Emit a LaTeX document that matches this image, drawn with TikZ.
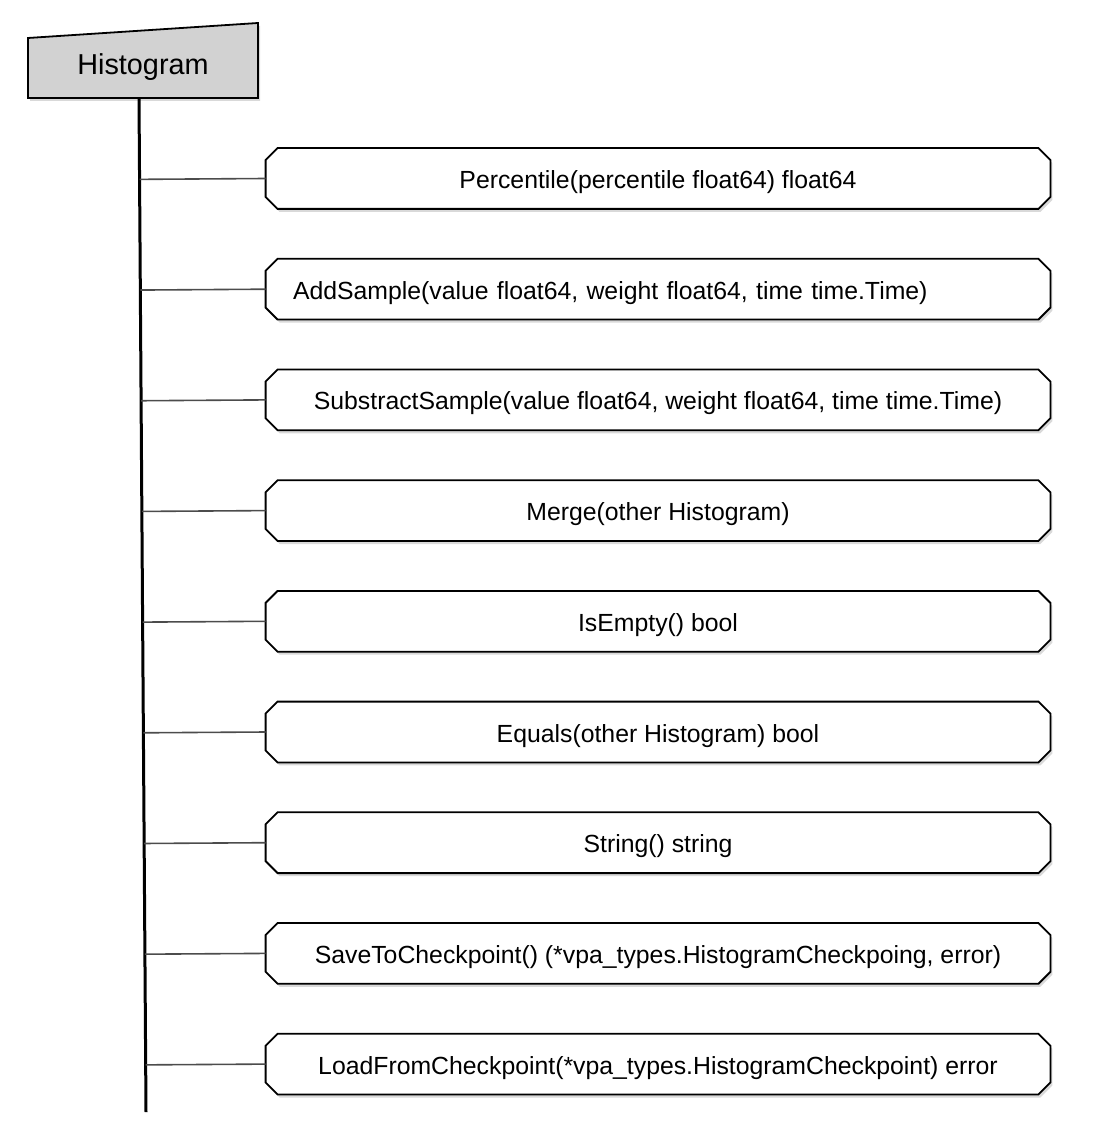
\documentclass[tikz,border=0pt]{standalone}
\usepackage{fontspec}
\setmainfont{Liberation Sans}
\usepackage{tikz}
\usetikzlibrary{calc,positioning,shadows,backgrounds}
\tikzset{
  trunk/.style={line width=1.5pt,black},
  branch/.style={line width=0.8pt,black!70},
  header/.style={draw=black,line width=0.9pt,fill=gray!35,
    drop shadow={shadow xshift=1pt,shadow yshift=-1.5pt,opacity=0.3}},
  methodbox/.style={draw=black,line width=0.9pt,fill=white,
    drop shadow={shadow xshift=1pt,shadow yshift=-1.5pt,opacity=0.3}},
  method/.style={rectangle,minimum width=392pt,minimum height=30pt,
    inner sep=0pt,text height=10pt,text depth=0pt},
  every node/.style={font=\fontsize{12.4}{14}\selectfont}
}
\newcommand\chamf{12}

\begin{document}
\begin{tikzpicture}[x=0.5pt,y=-0.5pt]
  \useasboundingbox (0,0) rectangle (1110,1144);
  % class box
  \filldraw[header] (28,38) -- (258,23) -- (258,98) -- (28,98) -- cycle;
  \node[font=\fontsize{14.4}{16}\selectfont] (hist) at (143,67) {Histogram};
  \coordinate (top) at (139,98);
  \coordinate (bot) at (146,1112);
  \draw[trunk] (top) -- (bot);

  % methods
  \node[method] (m1) at (658,178.5) {Percentile(percentile float64) float64};
  \node[method,text width=365pt,inner xsep=13.5pt,align=left] (m2) at (658,289.2)
    {AddSample(value float64, weight float64, time time.Time)};
  \node[method] (m3) at (658,399.9) {SubstractSample(value float64, weight float64, time time.Time)};
  \node[method] (m4) at (658,510.6) {Merge(other Histogram)};
  \node[method] (m5) at (658,621.3) {IsEmpty() bool};
  \node[method] (m6) at (658,732.0) {Equals(other Histogram) bool};
  \node[method] (m7) at (658,842.7) {String() string};
  \node[method] (m8) at (658,953.4) {SaveToCheckpoint() (*vpa\_types.HistogramCheckpoing, error)};
  \node[method] (m9) at (658,1064.1) {LoadFromCheckpoint(*vpa\_types.HistogramCheckpoint) error};

  \begin{scope}[on background layer]
    \foreach \i in {1,...,9}
      \filldraw[methodbox] ($(m\i.north west)+(\chamf,0)$) -- ($(m\i.north east)+(-\chamf,0)$)
        -- ($(m\i.north east)+(0,\chamf)$) -- ($(m\i.south east)+(0,-\chamf)$)
        -- ($(m\i.south east)+(-\chamf,0)$) -- ($(m\i.south west)+(\chamf,0)$)
        -- ($(m\i.south west)+(0,-\chamf)$) -- ($(m\i.north west)+(0,\chamf)$) -- cycle;
  \end{scope}

  \foreach \i in {1,...,9}
    \draw[branch] ($(top)!(m\i.west)!(bot)$) -- (m\i.west);
\end{tikzpicture}
\end{document}
